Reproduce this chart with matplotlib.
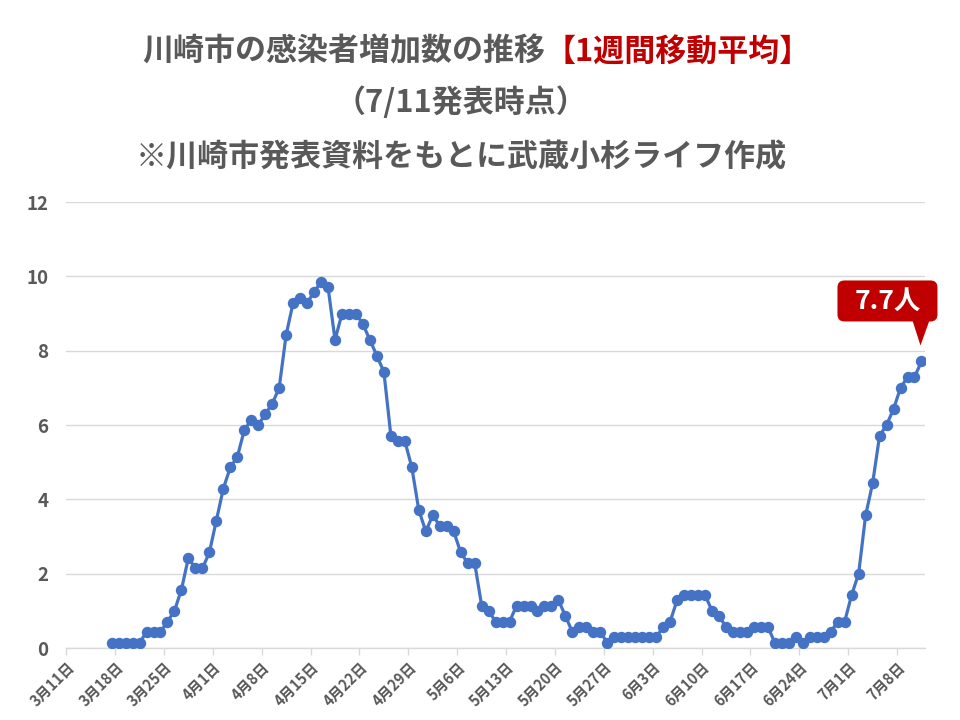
import matplotlib
matplotlib.use("Agg")
import matplotlib.pyplot as plt
import matplotlib.transforms as mtransforms
from matplotlib.patches import FancyBboxPatch, Polygon
import numpy as np
import pandas as pd

plt.rcParams['font.family'] = ['Noto Sans CJK JP', 'DejaVu Sans']

# 1週間移動平均（3月17日〜7月11日）
start_date = "2020-03-17"
axis_start = "2020-03-11"
mar = [0.14, 0.14, 0.14, 0.14, 0.14, 0.43, 0.43, 0.43, 0.71, 1.0, 1.57, 2.43, 2.14, 2.14, 2.57]
apr = [3.43, 4.29, 4.86, 5.14, 5.86, 6.14, 6.0, 6.29, 6.57, 7.0,
       8.43, 9.29, 9.43, 9.29, 9.57, 9.86, 9.71, 8.29, 9.0, 9.0,
       9.0, 8.71, 8.29, 7.86, 7.43, 5.71, 5.57, 5.57, 4.86, 3.71]
may = [3.14, 3.57, 3.29, 3.29, 3.14, 2.57, 2.29, 2.29, 1.14, 1.0,
       0.71, 0.71, 0.71, 1.14, 1.14, 1.14, 1.0, 1.14, 1.14, 1.29,
       0.86, 0.43, 0.57, 0.57, 0.43, 0.43, 0.14, 0.29, 0.29, 0.29, 0.29]
jun = [0.29, 0.29, 0.29, 0.57, 0.71, 1.29, 1.43, 1.43, 1.43, 1.43,
       1.0, 0.86, 0.57, 0.43, 0.43, 0.43, 0.57, 0.57, 0.57, 0.14,
       0.14, 0.14, 0.29, 0.14, 0.29, 0.29, 0.29, 0.43, 0.71, 0.71]
jul = [1.43, 2.0, 3.57, 4.43, 5.71, 6.0, 6.43, 7.0, 7.29, 7.29, 7.71]
tick_labels = ["3月11日", "3月18日", "3月25日", "4月1日", "4月8日", "4月15日", "4月22日",
               "4月29日", "5月6日", "5月13日", "5月20日", "5月27日", "6月3日", "6月10日",
               "6月17日", "6月24日", "7月1日", "7月8日"]
y_ticks = [0, 2, 4, 6, 8, 10, 12]
callout = "7.7人"

values = mar + apr + may + jun + jul
dates = pd.date_range(start_date, periods=len(values), freq="D")
# 日付を軸開始日からの日数に（各日の枠の中央に点を置く）
x = (dates - pd.Timestamp(axis_start)).days.values + 0.5

gray = "#595959"
red = "#C00000"
blue = "#4472C4"
grid = "#D9D9D9"

fig = plt.figure(figsize=(9.6, 7.2), dpi=100)
ax = fig.add_axes([0.069, 0.1, 0.8945, 0.6194])

ax.plot(x, values, color=blue, lw=2.3, marker="o", markersize=7.2, zorder=3)

ax.set_xlim(0, x[-1] + 0.5)
ax.set_ylim(0, 12)
ax.set_yticks(y_ticks)
ax.set_yticklabels([str(v) for v in y_ticks], fontsize=13.5, fontweight="bold", color=gray)
ax.set_xticks(np.arange(len(tick_labels)) * 7)
ax.set_xticklabels(tick_labels, rotation=45, ha="right", rotation_mode="anchor",
                   fontsize=10.5, fontweight="bold", color=gray)
ax.tick_params(axis="y", length=0, pad=13)
ax.tick_params(axis="x", length=5, color=grid, width=1, pad=3)
ax.yaxis.grid(True, color=grid, lw=1)
ax.set_axisbelow(True)
for s in ["top", "right", "left"]:
    ax.spines[s].set_visible(False)
ax.spines["bottom"].set_color(grid)
ax.spines["bottom"].set_linewidth(1)

# タイトル
fig.text(545 / 960, 0.928, "川崎市の感染者増加数の推移", ha="right", va="center",
         fontsize=22.3, fontweight="bold", color=gray)
fig.text(545 / 960, 0.928, "【1週間移動平均】", ha="left", va="center",
         fontsize=22.3, fontweight="bold", color=red)
fig.text(0.48, 0.857, "（7/11発表時点）", ha="center", va="center",
         fontsize=22.3, fontweight="bold", color=gray)
fig.text(0.48, 0.782, "※川崎市発表資料をもとに武蔵小杉ライフ作成", ha="center", va="center",
         fontsize=22.3, fontweight="bold", color=gray)

# 最新値の吹き出し（最終点からのピクセルオフセット）
tr = fig.dpi_scale_trans + mtransforms.ScaledTranslation(x[-1], values[-1], ax.transData)
px = 1 / 100
box = FancyBboxPatch((-84 * px, 40 * px), 100 * px, 41 * px,
                     boxstyle="round,pad=0,rounding_size=0.07",
                     transform=tr, fc=red, ec="none", clip_on=False, zorder=5)
ax.add_patch(box)
tri = Polygon([(-9 * px, 41 * px), (8 * px, 41 * px), (-1 * px, 16 * px)],
              closed=True, transform=tr, fc=red, ec="none", clip_on=False, zorder=5)
ax.add_patch(tri)
ax.text(-34 * px, 60.5 * px, callout, transform=tr, ha="center", va="center",
        fontsize=19, fontweight="bold", color="white", zorder=6)

fig.savefig("out.png", dpi=100)
